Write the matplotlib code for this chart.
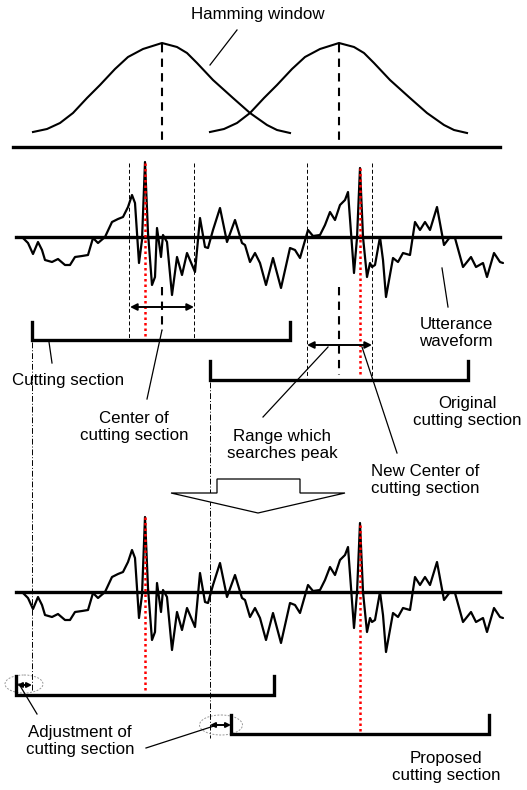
import matplotlib
matplotlib.use("Agg")
import matplotlib.pyplot as plt
import numpy as np
from matplotlib.patches import Polygon, Ellipse

plt.rcParams["font.family"] = ["Liberation Sans", "DejaVu Sans"]

# waveform (x in px, y in px for the upper panel)
wave_x = [17, 23, 28, 33, 38, 42, 45, 52, 58, 65, 70, 75, 82, 88, 93, 98, 105, 112,
          118, 123, 128, 132, 135, 139, 142, 145, 148, 152, 155, 157, 161, 163, 167,
          172, 177, 182, 187, 195, 200, 205, 208, 213, 220, 227, 235, 242, 245, 250,
          255, 260, 266, 273, 281, 290, 295, 300, 308, 313, 320, 325, 330, 335, 340,
          345, 348, 354, 357, 360, 363, 367, 370, 372, 375, 380, 383, 386, 393, 398,
          403, 410, 415, 420, 425, 430, 437, 444, 450, 455, 463, 471, 476, 483, 487,
          494, 500, 503]
wave_y = [237, 238, 243, 254, 242, 250, 260, 262, 259, 265, 265, 257, 256, 255, 238,
          243, 237, 222, 219, 217, 207, 195, 203, 263, 240, 162, 233, 285, 277, 228,
          257, 235, 242, 295, 257, 275, 253, 272, 218, 247, 248, 230, 208, 242, 220,
          243, 245, 262, 253, 263, 285, 258, 288, 248, 250, 258, 230, 236, 235, 225,
          212, 220, 205, 200, 192, 273, 238, 168, 237, 277, 263, 267, 265, 237, 260,
          297, 258, 262, 253, 255, 222, 230, 222, 230, 207, 245, 237, 238, 267, 257,
          267, 263, 277, 253, 262, 263]

# hamming window shape (offset from centre, y px)
win_dx = [-129, -115, -102, -89, -75, -62, -47, -34, -19, 0, 15, 25, 35, 51, 71, 88,
          105, 115, 128]
win_y = [132, 129, 123, 113, 98, 85, 69, 57, 49, 43, 47, 53, 63, 80, 98, 113, 125,
         130, 133]
win_centers = [162, 339]

BASE1 = 237
SHIFT = 355  # lower waveform offset

fig = plt.figure(figsize=(5.27, 7.90), dpi=100)
ax = fig.add_axes([0, 0, 1, 1])
ax.set_xlim(0, 527)
ax.set_ylim(790, 0)
ax.axis("off")

FS = 12.2


def txt(x, y, s):
    ax.text(x, y, s, ha="center", va="center", fontsize=FS,
            multialignment="center", linespacing=1.15)


def line(x0, y0, x1, y1, **kw):
    kw.setdefault("color", "black")
    kw.setdefault("lw", 0.9)
    ax.plot([x0, x1], [y0, y1], **kw)


def darrow(x0, x1, y, ms=10):
    ax.annotate("", xy=(x1, y), xytext=(x0, y),
                arrowprops=dict(arrowstyle="<|-|>", color="black", lw=1.4,
                                mutation_scale=ms, shrinkA=0, shrinkB=0))


def bracket(x0, x1, y, ytop):
    ax.plot([x0, x0, x1, x1], [ytop, y, y, ytop], color="black", lw=2.4,
            solid_joinstyle="miter")


# --- Hamming windows
txt(258, 15, "Hamming window")
line(237, 30, 210, 65)
for c in win_centers:
    ax.plot(np.array(win_dx) + c, win_y, color="black", lw=1.5,
            solid_joinstyle="round")
    line(c, 44, c, 147, lw=1.5, ls=(0, (4, 3)))
line(13, 147, 500, 147, lw=2.4)

# --- upper waveform
ax.plot(wave_x, wave_y, color="black", lw=1.6, solid_joinstyle="round",
        solid_capstyle="round")
line(16, BASE1, 500, BASE1, lw=2.4)

thin = dict(lw=0.7, ls=(0, (4, 2.5)))
for x in (129, 194):
    line(x, 163, x, 338, **thin)
for x in (307, 372):
    line(x, 163, x, 378, **thin)
red = dict(color="red", lw=1.8, ls=(0, (1, 1.2)))
line(145, 163, 145, 338, **red)
line(360, 168, 360, 377, **red)
line(162, 287, 162, 331, lw=1.5, ls=(0, (4, 3)))
line(339, 287, 339, 375, lw=1.5, ls=(0, (4, 3)))
darrow(130, 194, 307)
darrow(307, 372, 345)

bracket(32, 290, 340, 322)
bracket(210, 468, 380, 361)

dashdot = dict(lw=0.7, ls=(0, (6, 2, 1, 2)))
line(32, 342, 32, 692, **dashdot)
line(210, 382, 210, 738, **dashdot)

# labels of upper panel
txt(456, 333, "Utterance\nwaveform")
line(442, 268, 448, 307)
txt(68, 381, "Cutting section")
line(49, 342, 52, 363)
txt(134, 427, "Center of\ncutting section")
line(162, 330, 147, 399)
txt(467, 412, "Original\ncutting section")
txt(282, 445, "Range which\nsearches peak")
line(328, 347, 263, 417)
txt(425, 480, "New Center of\ncutting section")
line(362, 347, 397, 453)

# big hollow arrow
ax.add_patch(Polygon([(217, 479), (300, 479), (300, 493), (345, 493), (258, 513),
                      (171, 493), (217, 493)], closed=True, facecolor="white",
                     edgecolor="black", lw=0.9, zorder=3))

# --- lower waveform
ax.plot(wave_x, np.array(wave_y) + SHIFT, color="black", lw=1.6,
        solid_joinstyle="round", solid_capstyle="round")
line(16, BASE1 + SHIFT, 500, BASE1 + SHIFT, lw=2.4)
line(145, 517, 145, 692, **red)
line(360, 525, 360, 732, **red)

bracket(16, 274, 695, 676)
bracket(231, 489, 734, 715)

ax.add_patch(Ellipse((24, 684), 38, 18, fill=False, edgecolor="#999999", lw=0.7,
                     ls=(0, (2, 1.5))))
ax.add_patch(Ellipse((221, 725), 43, 20, fill=False, edgecolor="#999999", lw=0.7,
                     ls=(0, (2, 1.5))))
darrow(17, 32, 685, ms=7)
darrow(210, 231, 725, ms=7)

txt(80, 741, "Adjustment of\ncutting section")
line(37, 714, 19, 684)
line(146, 748, 214, 726)
txt(446, 767, "Proposed\ncutting section")

plt.savefig("out.png", dpi=100)
plt.close()
